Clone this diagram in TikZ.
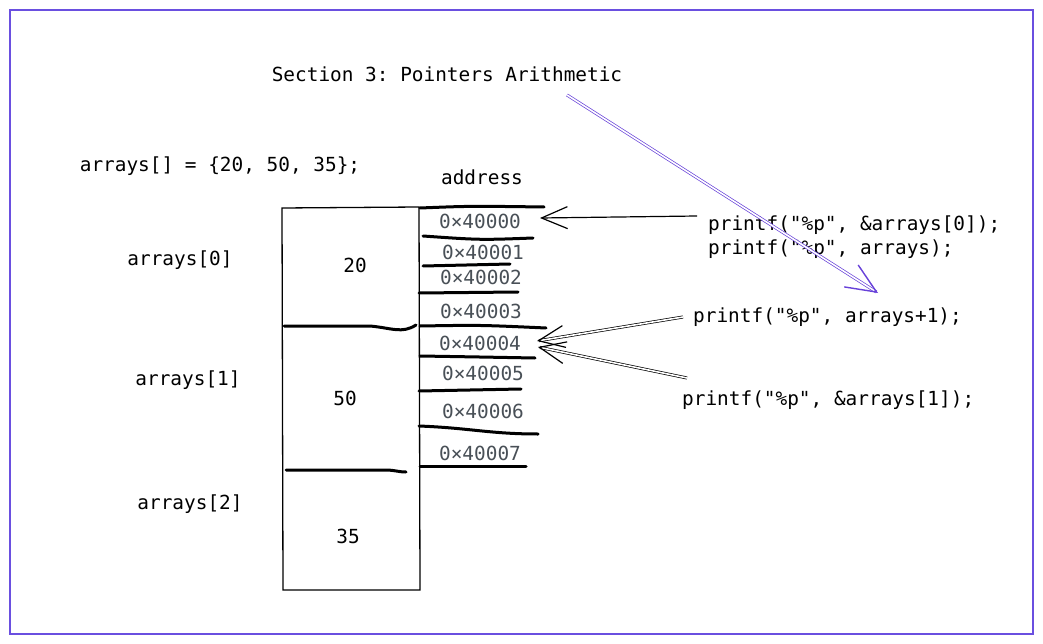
\documentclass[tikz,border=0pt]{standalone}
\usepackage{fontspec}
\setmonofont{DejaVu Sans Mono}
\usetikzlibrary{arrows.meta,calc}
\definecolor{frame}{HTML}{6A4FE0}
\definecolor{violet}{HTML}{6741D9}
\definecolor{addr}{HTML}{495057}
\tikzset{
  txt/.style={font=\ttfamily\fontsize{19.4}{22}\selectfont, inner sep=0pt, text=black},
  addrtxt/.style={txt, text=addr},
  thin/.style={draw=black, line width=1.3pt},
  thick/.style={draw=black, line width=3pt, line cap=round},
  barb/.style={-{Straight Barb[length=26pt,width=22pt,line width=1.2pt]}, line width=1.2pt},
  bigbarb/.style={-{Straight Barb[length=30pt,width=26pt,line width=1.4pt]}, line width=1.4pt},
  dbl/.style={double, double distance=1.6pt, line width=0.7pt},
}
\begin{document}
\begin{tikzpicture}[x=1pt,y=-1pt]
\useasboundingbox (0,0) rectangle (1043,644);
\fill[white] (0,0) rectangle (1043,644);
\draw[frame, line width=1.5pt] (10,10) rectangle (1033,634);

% texts
\node[txt] (title) at (447,74) {Section 3: Pointers Arithmetic};
\node[txt] (decl) at (220,166) {arrays[] = \{20, 50, 35\};};
\node[txt] (address) at (482,177) {address};
\node[txt] (a0) at (180,260) {arrays[0]};
\node[txt] (a1) at (188,380) {arrays[1]};
\node[txt] (a2) at (190,504) {arrays[2]};
\node[txt] (v0) at (355,265) {20};
\node[txt] (v1) at (345,398) {50};
\node[txt] (v2) at (348,536) {35};

\node[addrtxt] (ad0) at (480,221) {0×40000};
\node[addrtxt] (ad1) at (483,252) {0×40001};
\node[addrtxt] (ad2) at (481,277) {0×40002};
\node[addrtxt] (ad3) at (481,311) {0×40003};
\node[addrtxt] (ad4) at (480,343) {0×40004};
\node[addrtxt] (ad5) at (483,373) {0×40005};
\node[addrtxt] (ad6) at (483,411) {0×40006};
\node[addrtxt] (ad7) at (480,453) {0×40007};

\node[txt, anchor=west] (p0) at (708,225) {printf("\%p", \&arrays[0]);};
\node[txt, anchor=west] (p0b) at (708,249) {printf("\%p", arrays);};
\node[txt, anchor=west] (p1) at (693,317) {printf("\%p", arrays+1);};
\node[txt, anchor=west] (p2) at (682,400) {printf("\%p", \&arrays[1]);};

% memory box
\draw[thin] (282,208) -- (419,207) -- (420,590) -- (283,590) -- cycle;
\draw[thick] (284,326) -- (370,326) .. controls (392,328) and (402,334) .. (416,325);
\draw[thick] (286,470) -- (385,470) .. controls (395,470) and (398,472) .. (406,472);

% address lines
\draw[thick] (420,208) .. controls (470,206) .. (544,207);
\draw[thick] (423,236) .. controls (480,240) .. (533,238);
\draw[thick] (423,266) -- (510,264);
\draw[thick] (419,293) -- (518,292);
\draw[thick] (420,326) .. controls (480,325) .. (546,328);
\draw[thick] (420,356) .. controls (480,357) .. (535,358);
\draw[thick] (419,391) -- (521,389);
\draw[thick] (419,426) .. controls (470,428) and (490,434) .. (538,434);
\draw[thick] (420,466) -- (526,466);

% arrows
\coordinate (s0) at (697,216);
\coordinate (e0) at (540,218);
\draw[barb] (s0) -- (e0);

\coordinate (s1) at (683,317);
\coordinate (e1) at (537,341);
\draw[dbl] (s1) -- ($(e1)!2pt!(s1)$);
\draw[barb] ($(e1)!3pt!(s1)$) -- (e1);

\coordinate (s2) at (687,378);
\coordinate (e2) at (538,347);
\draw[dbl] (s2) -- ($(e2)!2pt!(s2)$);
\draw[barb] ($(e2)!3pt!(s2)$) -- (e2);

\coordinate (s3) at (567,95);
\coordinate (e3) at (878,293);
\draw[dbl, draw=violet] (s3) -- ($(e3)!2pt!(s3)$);
\draw[bigbarb, draw=violet] ($(e3)!3pt!(s3)$) -- (e3);
\end{tikzpicture}
\end{document}
